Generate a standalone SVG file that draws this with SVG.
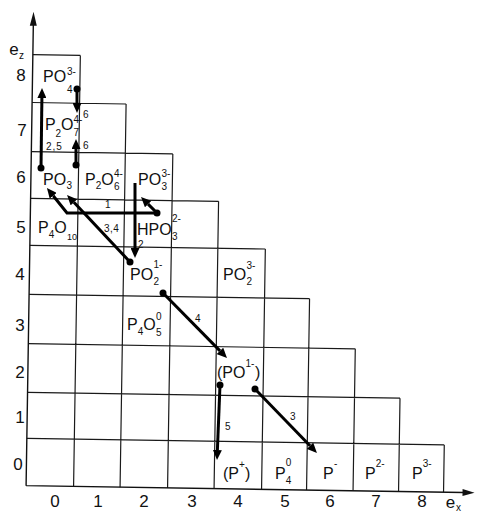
<svg xmlns="http://www.w3.org/2000/svg" width="477" height="512" viewBox="0 0 477 512">
<style>
.g{stroke:#1a1a1a;stroke-width:1.2;fill:none}
.ax{stroke:#111;stroke-width:1.4;fill:none}
.c{stroke:#000;stroke-width:3;fill:none;marker-end:url(#ah)}
.d{fill:#000}
text{font-family:"Liberation Sans",Arial,sans-serif;fill:#111}
.t{font-size:16px}
.s{font-size:10px}
.s9{font-size:9px}
.l{font-size:10px}
.n{font-size:17px;text-anchor:middle}
</style>
<defs>
<marker id="ah" markerUnits="userSpaceOnUse" markerWidth="10" markerHeight="9" viewBox="0 0 10 9" refX="0" refY="4.5" orient="auto"><path d="M0,0 L10,4.5 L0,9 z" fill="#000"/></marker>
</defs>
<rect width="477" height="512" fill="#fff"/>
<g id="grid" transform="rotate(0.9 240 270)">
<path class="g" d="M29.5,58H77 M29.5,105.8H123.5 M29.5,155H171 M29.5,201.7H217.5 M29.5,248.6H265 M29.5,297.6H310 M29.5,347H356.5 M29.5,395.6H402 M29.5,441.7H447 M77,489V58 M123.5,489V105.8 M171,489V155 M217.5,489V201.7 M265,489V248.6 M310,489V297.6 M356.5,489V347 M402,489V395.6 M447,489V441.7"/>
<path class="ax" d="M29.5,489V28 M29.5,489H467"/>
<path d="M29.5,15 L26,29 L33,29 z M478,489 L466,485.5 L466,492.5 z" fill="#111"/>
</g>
<g id="axis-labels">
<text class="n" x="14" y="55">e</text><text class="s" x="19" y="59">z</text>
<text class="n" x="450.5" y="508">e</text><text class="s" x="456" y="511">x</text>
<text class="n" x="21" y="81">8</text>
<text class="n" x="22" y="136">7</text>
<text class="n" x="21" y="183">6</text>
<text class="n" x="21" y="233">5</text>
<text class="n" x="20" y="280">4</text>
<text class="n" x="20" y="331">3</text>
<text class="n" x="20" y="378">2</text>
<text class="n" x="20" y="423">1</text>
<text class="n" x="18" y="470">0</text>
<text class="n" x="55" y="507">0</text>
<text class="n" x="98" y="507">1</text>
<text class="n" x="144" y="507">2</text>
<text class="n" x="192" y="507">3</text>
<text class="n" x="238" y="507">4</text>
<text class="n" x="285" y="507">5</text>
<text class="n" x="330" y="507">6</text>
<text class="n" x="376" y="507">7</text>
<text class="n" x="422" y="507">8</text>
</g>
<g id="PO4"><text class="t" x="43" y="82">PO</text><text class="s" x="67" y="75">3-</text><text class="s" x="67" y="93">4</text></g>
<g id="P2O7"><text class="t" x="45" y="130">P</text><text class="s" x="55.5" y="137">2</text><text class="t" x="61" y="130">O</text><text class="s" x="73.5" y="123">4-</text><text class="s" x="73.5" y="136">7</text></g>
<g id="PO3"><text class="t" x="43" y="185">PO</text><text class="s" x="66.5" y="189">3</text></g>
<g id="P2O6"><text class="t" x="85" y="185">P</text><text class="s" x="95.7" y="189">2</text><text class="t" x="101.3" y="185">O</text><text class="s" x="114" y="177">4-</text><text class="s" x="114" y="190">6</text></g>
<g id="PO3-3"><text class="t" x="138" y="185">PO</text><text class="s" x="161.5" y="177">3-</text><text class="s" x="161.5" y="190">3</text></g>
<g id="P4O10"><text class="t" x="38" y="233">P</text><text class="s" x="48.7" y="238">4</text><text class="t" x="54.3" y="233">O</text><text class="s9" x="67" y="240">10</text></g>
<g id="HPO3"><text class="t" x="137" y="235">HPO</text><text class="s" x="172" y="222">2-</text><text class="s" x="172" y="240">3</text></g>
<g id="PO2-1"><text class="t" x="130" y="280">PO</text><text class="s" x="153.5" y="285">2</text><text class="s" x="153.5" y="268">1-</text></g>
<g id="PO2-3"><text class="t" x="223" y="280">PO</text><text class="s" x="246.5" y="285">2</text><text class="s" x="246.5" y="269">3-</text></g>
<g id="P4O5"><text class="t" x="127" y="330">P</text><text class="s" x="137.7" y="335">4</text><text class="t" x="143.3" y="330">O</text><text class="s" x="156" y="320">0</text><text class="s" x="156" y="336">5</text></g>
<g id="PO-1"><text class="t" x="217" y="378">(PO</text><text class="s" x="245.5" y="367">1-</text><text class="t" x="255" y="378">)</text></g>
<g id="P-plus"><text class="t" x="223" y="479">(P</text><text class="s" x="239" y="468">+</text><text class="t" x="245" y="479">)</text></g>
<g id="P4"><text class="t" x="275" y="479">P</text><text class="s" x="285.7" y="466">0</text><text class="s" x="285.7" y="484">4</text></g>
<g id="P-1"><text class="t" x="323" y="479">P</text><text class="s" x="334" y="467">-</text></g>
<g id="P-2"><text class="t" x="365" y="479">P</text><text class="s" x="375.7" y="467">2-</text></g>
<g id="P-3"><text class="t" x="412" y="479">P</text><text class="s" x="422.7" y="467">3-</text></g>
<g id="connectors">
<path class="c" d="M77,89V103"/>
<path class="c" d="M76,165V149"/>
<path class="c" d="M41,168L41.9,98"/>
<path class="c" d="M157,213H67L53.2,195.8"/>
<path class="c" d="M130,262L73.9,202.3"/>
<path class="c" d="M135,183V248"/>
<path class="c" d="M157,213L148.1,204.1"/>
<path class="c" d="M163,293L220,350.9"/>
<path class="c" d="M220,385L217.4,450"/>
<path class="c" d="M255,389L310,445.8"/>
<circle class="d" cx="77" cy="89" r="3.5"/>
<circle class="d" cx="76" cy="165" r="3.5"/>
<circle class="d" cx="41" cy="168" r="3.5"/>
<circle class="d" cx="157" cy="213" r="3.5"/>
<circle class="d" cx="130" cy="262" r="3.5"/>
<circle class="d" cx="163" cy="293" r="3.5"/>
<circle class="d" cx="220" cy="385" r="3.5"/>
<circle class="d" cx="255" cy="389" r="3.5"/>
<text class="l" x="83" y="118">6</text>
<text class="l" x="83" y="149">6</text>
<text class="l" x="46" y="150" letter-spacing="1">2,5</text>
<text class="l" x="105" y="208">1</text>
<text class="l" x="104" y="232" letter-spacing="0.5">3,4</text>
<text class="l" x="138" y="248">2</text>
<text class="l" x="195" y="322">4</text>
<text class="l" x="225" y="430">5</text>
<text class="l" x="290" y="420">3</text>
</g>
</svg>
